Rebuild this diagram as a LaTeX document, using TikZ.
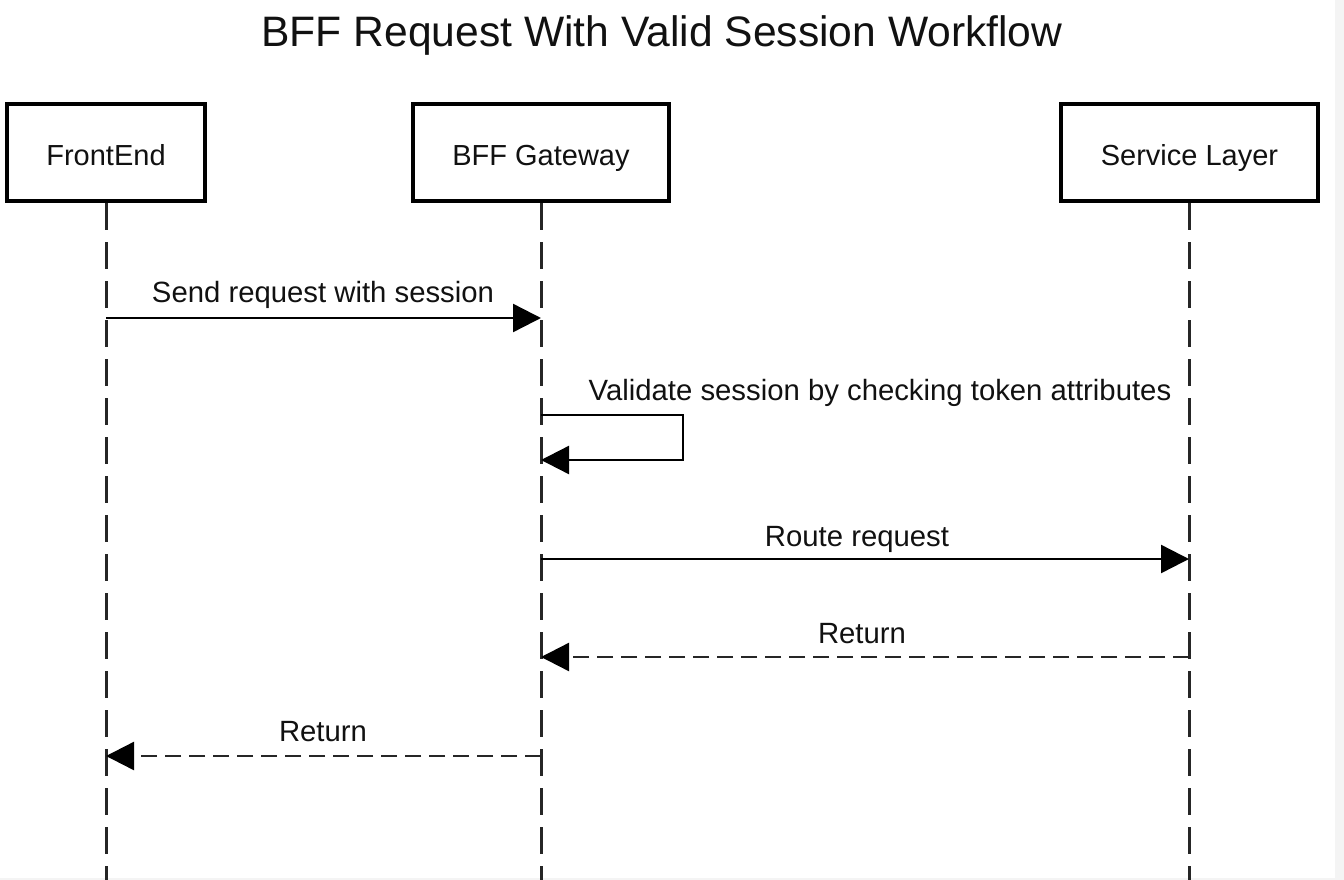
\documentclass[tikz,border=0pt]{standalone}
\usepackage{fontspec}
\setmainfont{Liberation Sans}
\usetikzlibrary{arrows.meta}
\definecolor{txt}{HTML}{111111}
\definecolor{strip}{HTML}{F4F4F4}
\tikzset{
  actor/.style={draw=black, line width=4.5pt, fill=white, minimum width=#1, minimum height=97pt, inner sep=0pt, text height=25pt, text depth=0pt, font=\fontsize{29}{32}\selectfont, text=txt},
  lifeline/.style={draw=black!85, line width=3pt, dash pattern=on 27pt off 12pt},
  msg/.style={draw=black, line width=2.4pt, -{Triangle[length=28pt,width=28pt,color=black]}},
  ret/.style={msg, draw=black!85, dash pattern=on 16pt off 8pt},
  lbl/.style={font=\fontsize{29.3}{32}\selectfont, text=txt, anchor=base, inner sep=0pt},
}
\begin{document}
\begin{tikzpicture}[x=1pt,y=-1pt]
\useasboundingbox (0,0) rectangle (1344,880);
\fill[white] (0,0) rectangle (1344,880);
\fill[strip] (1335,0) rectangle (1344,880);
\fill[strip] (0,878) rectangle (1344,880);
\node[lbl, font=\fontsize{42.6}{46}\selectfont] (title) at (662,47) {BFF Request With Valid Session Workflow};
% lifelines
\coordinate (fEnd) at (106,880);
\coordinate (bEnd) at (541,880);
\coordinate (sEnd) at (1189,880);
\node[actor=198pt] (fe) at (106,152.5) {FrontEnd};
\node[actor=256pt] (bff) at (541,152.5) {BFF Gateway};
\node[actor=257pt] (svc) at (1189.5,152.5) {Service Layer};
\draw[lifeline] (fe.south) -- (fEnd);
\draw[lifeline] (bff.south) -- (bEnd);
\draw[lifeline] ([xshift=-0.5pt]svc.south) -- (sEnd);
% message anchor points
\coordinate (m1a) at (106,318);
\coordinate (m1b) at (541,318);
\coordinate (m2a) at (541,415);
\coordinate (m2b) at (541,460);
\coordinate (m3a) at (541,559);
\coordinate (m3b) at (1189,559);
\coordinate (m4a) at (1189,657);
\coordinate (m4b) at (541,657);
\coordinate (m5a) at (541,756);
\coordinate (m5b) at (106,756);
\draw[msg] (m1a) -- (m1b);
\node[lbl] (l1) at (323,302) {Send request with session};
\draw[msg] (m2a) -- (683,415) -- (683,460) -- (m2b);
\node[lbl] (l2) at (880,400) {Validate session by checking token attributes};
\draw[msg] (m3a) -- (m3b);
\node[lbl] (l3) at (857,546) {Route request};
\draw[ret] (m4a) -- (m4b);
\node[lbl] (l4) at (862,643) {Return};
\draw[ret] (m5a) -- (m5b);
\node[lbl] (l5) at (323,741) {Return};
\end{tikzpicture}
\end{document}
